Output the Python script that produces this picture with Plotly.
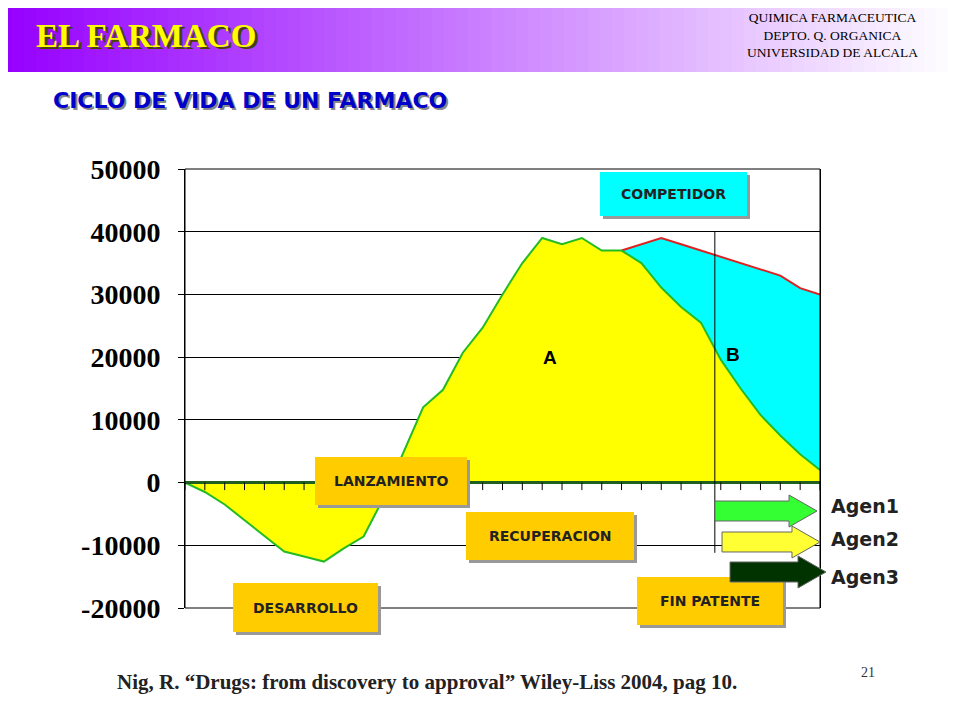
import plotly.graph_objects as go

# ciclo de vida: flujo de caja acumulado (eje x = periodos)
periodos = list(range(33))
farmaco_a = [0, -1500, -3500, -6000, -8600, -11000, -11800, -12600, -10500, -8600,
             -2500, 4800, 12000, 14800, 20700, 24700, 30000, 35000, 39000, 38000,
             39000, 37000, 37000, 35000, 31100, 28000, 25500, 19600, 15000, 10800,
             7500, 4500, 2000]
periodos_b = list(range(22, 33))
competidor = [37000, 38000, 39000, 38000, 37000, 36000, 35000, 34000, 33000, 31000, 30000]
y_ticks = [-20000, -10000, 0, 10000, 20000, 30000, 40000, 50000]

L, R, T, B = 185, 820, 169, 608
OFF = 8  # margen del body en la pagina
def px(x): return (x - L) / (R - L)
def py(y): return (B - y) / (B - T)

fig = go.Figure()
fig.add_trace(go.Scatter(x=periodos_b, y=competidor, fill='tozeroy', fillcolor='#00FFFF',
                         mode='lines', line=dict(color='#DD2222', width=2), hoverinfo='skip'))
fig.add_trace(go.Scatter(x=periodos, y=farmaco_a, fill='tozeroy', fillcolor='#FFFF00',
                         mode='lines', line=dict(color='#22BB22', width=2), hoverinfo='skip'))
fig.add_trace(go.Scatter(x=[0, 32], y=[0, 0], mode='lines', line=dict(color='#1F5F1F', width=3),
                         hoverinfo='skip'))

shapes = []
# cabecera con degradado
n = 80
for i in range(n):
    t = i / (n - 1)
    r = int(150 + (255 - 150) * t)
    g = int(0 + 255 * t)
    shapes.append(dict(type='rect', xref='paper', yref='paper', x0=px(i * 960 / n), x1=px((i + 1) * 960 / n + 1),
                       y0=py(72), y1=py(0), line_width=0, fillcolor=f'rgb({r},{g},255)', layer='below'))
# marco del grafico
shapes.append(dict(type='rect', xref='paper', yref='paper', x0=0, x1=1, y0=0, y1=1,
                   line=dict(color='black', width=1)))
# ticks en el eje cero
for i in periodos:
    shapes.append(dict(type='line', x0=i, x1=i, y0=0, y1=-1200, line=dict(color='black', width=1)))
# linea vertical
shapes.append(dict(type='line', x0=26.7, x1=26.7, y0=40000, y1=-11200, line=dict(color='black', width=1)))

def texto(x, y, s, font, xanchor='center'):
    fig.add_annotation(xref='paper', yref='paper', x=px(x), y=py(y), xanchor=xanchor, yanchor='middle',
                       text=s, showarrow=False, font=font)

def caja(x0, x1, y0, y1, color, s, size=14):
    shapes.append(dict(type='rect', xref='paper', yref='paper', x0=px(x0 + 3), x1=px(x1 + 3),
                       y0=py(y1 + 3), y1=py(y0 + 3), line_width=0, fillcolor='#999999'))
    shapes.append(dict(type='rect', xref='paper', yref='paper', x0=px(x0), x1=px(x1),
                       y0=py(y1), y1=py(y0), line_width=0, fillcolor=color))
    texto((x0 + x1) / 2, (y0 + y1) / 2, f'<b>{s}</b>', dict(family='DejaVu Sans', size=size, color='#222222'))

def flecha(x0, x1, yc, h, color):
    hh = h / 2
    head = 28
    pts = [(x0, yc - hh), (x1 - head, yc - hh), (x1 - head, yc - hh - 6), (x1, yc),
           (x1 - head, yc + hh + 6), (x1 - head, yc + hh), (x0, yc + hh)]
    path = 'M ' + ' L '.join(f'{px(a):.4f},{py(b):.4f}' for a, b in pts) + ' Z'
    shapes.append(dict(type='path', xref='paper', yref='paper', path=path, fillcolor=color,
                       line=dict(color='#666666', width=1)))

caja(600, 747, 172, 216, '#00FFFF', 'COMPETIDOR')
caja(315, 467, 457, 505, '#FFCC00', 'LANZAMIENTO')
caja(466, 634, 512, 560, '#FFCC00', 'RECUPERACION')
caja(233, 378, 583, 632, '#FFCC00', 'DESARROLLO')
caja(637, 783, 577, 625, '#FFCC00', 'FIN PATENTE')
flecha(715, 817, 511, 20, '#33FF33')
flecha(722, 820, 542, 20, '#FFFF33')
flecha(730, 826, 572, 20, '#003300')

for s, y in [('Agen1', 506), ('Agen2', 539), ('Agen3', 577)]:
    texto(829, y, f'<b>{s}</b>', dict(family='DejaVu Sans', size=19, color='#222222'), xanchor='left')

fig.add_annotation(x=18.4, y=20000, text='<b>A</b>', showarrow=False, font=dict(family='Arial', size=19, color='black'))
fig.add_annotation(x=27.6, y=20500, text='<b>B</b>', showarrow=False, font=dict(family='Arial', size=19, color='black'))

# textos de la diapositiva (con sombra)
texto(37, 38, '<b>EL FARMACO</b>', dict(family='Liberation Serif', size=33, color='#444400'), xanchor='left')
texto(34, 36, '<b>EL FARMACO</b>', dict(family='Liberation Serif', size=33, color='#FFFF00'), xanchor='left')
texto(832, 35, 'QUIMICA FARMACEUTICA<br>DEPTO. Q. ORGANICA<br>UNIVERSIDAD DE ALCALA',
      dict(family='Liberation Serif', size=13.5, color='black'))
texto(53, 103, '<b>CICLO DE VIDA DE UN FARMACO</b>', dict(family='DejaVu Sans', size=22, color='#888888'), xanchor='left')
texto(51, 101, '<b>CICLO DE VIDA DE UN FARMACO</b>', dict(family='DejaVu Sans', size=22, color='#0000CC'), xanchor='left')
texto(427, 682, '<b>Nig, R. \u201cDrugs: from discovery to approval\u201d Wiley-Liss 2004, pag 10.</b>',
      dict(family='Liberation Serif', size=21, color='#222222'))
texto(868, 672, '21', dict(family='Liberation Serif', size=14, color='#333333'))

fig.update_layout(
    width=960 - OFF, height=720 - OFF,
    margin=dict(l=L - OFF, r=960 - R, t=T - OFF, b=720 - B, pad=0),
    paper_bgcolor='white', plot_bgcolor='white', showlegend=False, shapes=shapes,
    xaxis=dict(range=[0, 32], visible=False, showgrid=False, fixedrange=True),
    yaxis=dict(range=[-20000, 50000], tickvals=y_ticks, ticktext=[str(v) for v in y_ticks],
               showgrid=True, gridcolor='black', gridwidth=1, zeroline=False,
               showline=True, linecolor='black', mirror=True, ticks='outside', ticklen=6,
               tickcolor='black', ticklabelstandoff=12,
               tickfont=dict(family='Liberation Serif', size=28, color='black', weight='bold')),
)
fig.write_html("out.html")
